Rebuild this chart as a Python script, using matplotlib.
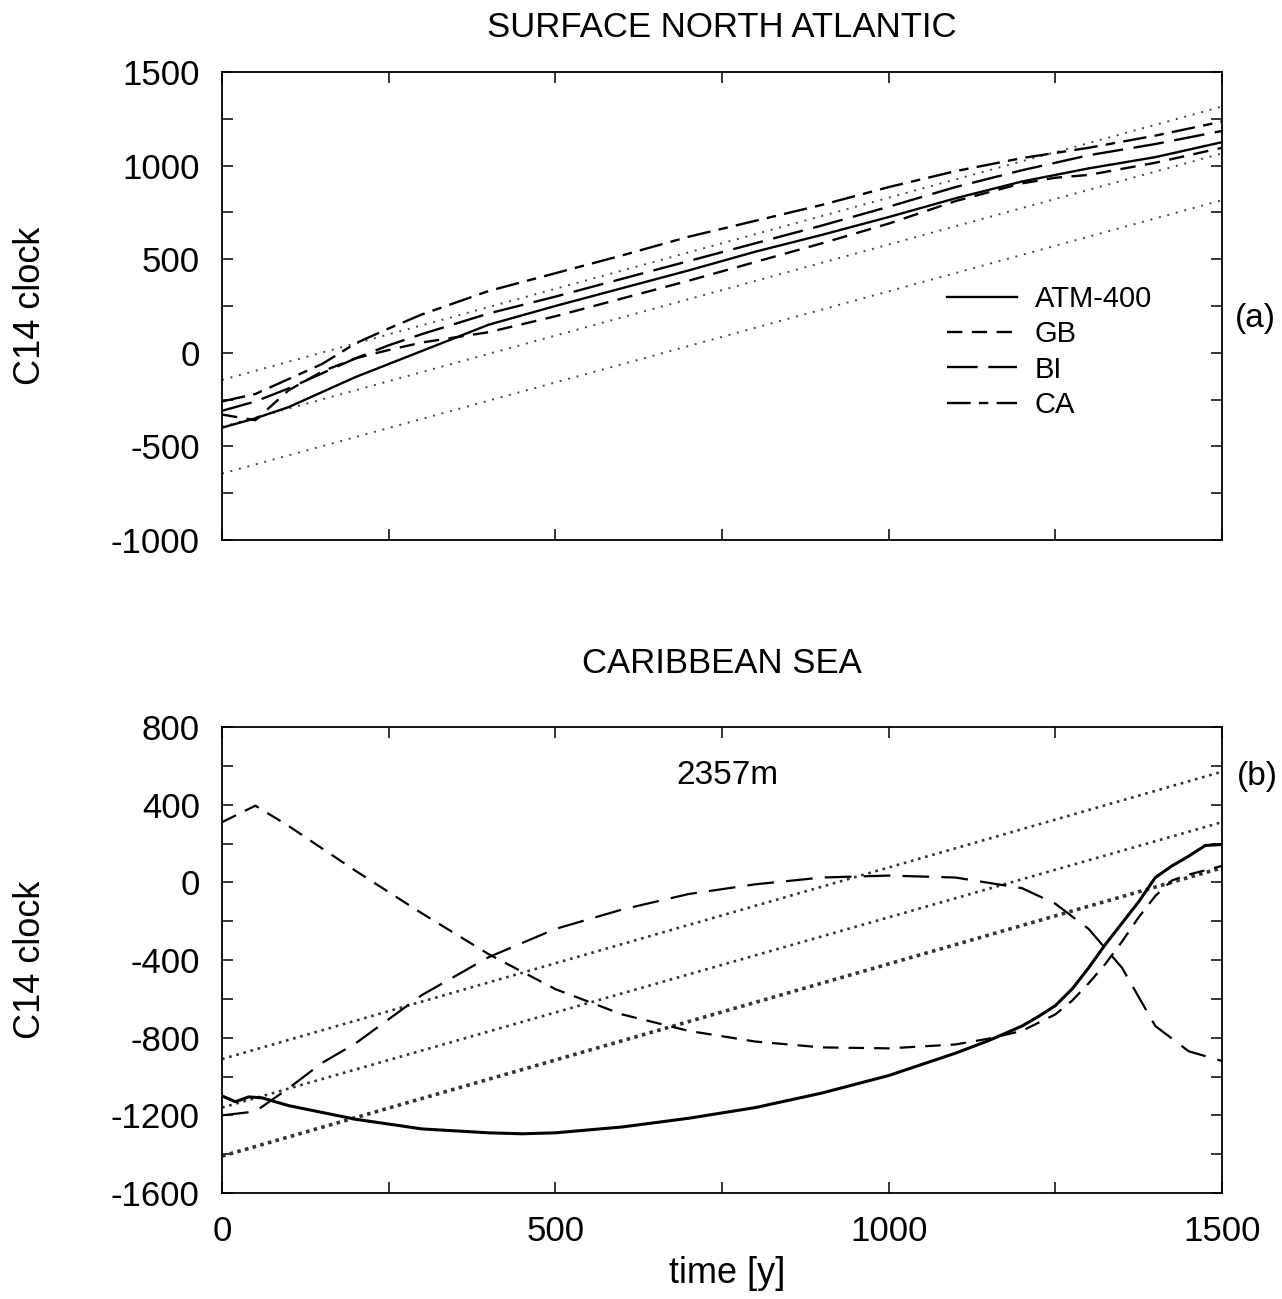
import matplotlib
matplotlib.use("Agg")
import matplotlib.pyplot as plt
from matplotlib.ticker import MultipleLocator

plt.rcParams["font.family"] = ["Liberation Sans", "DejaVu Sans"]
plt.rcParams["axes.unicode_minus"] = False

# ---------------------------------------------------------------------------
# (a) surface North Atlantic
# ---------------------------------------------------------------------------
T_A = [0, 50, 100, 150, 200, 250, 300, 400, 500, 600, 700, 800, 900,
       1000, 1100, 1200, 1300, 1400, 1500]
ATM400_A = [-400, -350, -290, -210, -130, -60, 10, 150, 250, 345, 440, 540,
            630, 725, 825, 915, 985, 1045, 1125]
BI_A = [-310, -260, -190, -110, -30, 40, 100, 210, 300, 395, 490, 585,
        680, 780, 885, 975, 1055, 1115, 1185]
CA_A = [-260, -220, -140, -60, 50, 130, 205, 330, 425, 520, 620, 705,
        790, 885, 970, 1040, 1095, 1160, 1235]

T_GB_A = [0, 50, 100, 150, 200, 250, 300, 400, 500, 600, 700, 800, 900,
          1000, 1100, 1200, 1250, 1300, 1400, 1500]
GB_A = [-330, -360, -200, -100, -30, 15, 55, 110, 195, 290, 385, 485, 585,
        690, 810, 905, 935, 950, 1015, 1095]

# straight reference lines (start, end) over 0..1500 y
REF_T = [0, 1500]
REF_A = [[-145, 1315], [-395, 1065], [-645, 815]]

# ---------------------------------------------------------------------------
# (b) Caribbean Sea, 2357 m
# ---------------------------------------------------------------------------
T_ATM_B = [0, 20, 40, 60, 100, 150, 200, 300, 400, 450, 500, 600, 700, 800,
           900, 1000, 1100, 1150, 1200, 1225, 1250, 1275, 1300, 1325, 1350,
           1375, 1400, 1425, 1450, 1475, 1500]
ATM400_B = [-1100, -1130, -1105, -1110, -1150, -1185, -1220, -1270, -1290,
            -1295, -1290, -1260, -1215, -1160, -1085, -995, -880, -815, -740,
            -690, -635, -550, -440, -320, -210, -100, 25, 85, 135, 190, 195]

T_GB_B = [0, 50, 100, 200, 300, 400, 500, 600, 700, 800, 900, 1000, 1100,
          1150, 1200, 1250, 1275, 1300, 1325, 1350, 1375, 1400, 1425, 1450,
          1500]
GB_B = [310, 395, 290, 60, -160, -370, -550, -680, -765, -820, -850, -855,
        -835, -805, -765, -680, -610, -520, -420, -305, -180, -70, 10, 40, 85]

T_BI_B = [0, 50, 100, 150, 200, 300, 400, 500, 600, 700, 800, 900, 1000,
          1100, 1200, 1250, 1300, 1350, 1400, 1450, 1500]
BI_B = [-1200, -1180, -1060, -930, -830, -580, -385, -240, -140, -60, -10,
        25, 35, 25, -30, -110, -240, -440, -740, -870, -920]

REF_B = [[-910, 570], [-1160, 310], [-1410, 75]]

DASH_GB = (0, (6.5, 4))
DASH_BI = (0, (13, 4.5))
DASH_CA = (0, (10, 3.5, 4, 3.5))

fig = plt.figure(figsize=(12.82, 12.99), dpi=100)
ax1 = fig.add_axes([0.1732, 0.5843, 0.7800, 0.3603])
ax2 = fig.add_axes([0.1732, 0.0816, 0.7800, 0.3587])

# --- panel a ---
for start, end in REF_A:
    ax1.plot(REF_T, [start, end], color="#444444", lw=1.4,
             linestyle=(0, (1, 3.5)))
ax1.plot(T_A, ATM400_A, color="black", lw=1.7, label="ATM-400")
ax1.plot(T_GB_A, GB_A, color="black", lw=1.7, linestyle=DASH_GB, label="GB")
ax1.plot(T_A, BI_A, color="black", lw=1.7, linestyle=DASH_BI, label="BI")
ax1.plot(T_A, CA_A, color="black", lw=1.7, linestyle=DASH_CA, label="CA")

ax1.set_ylim(-1000, 1500)
ax1.yaxis.set_major_locator(MultipleLocator(500))
ax1.yaxis.set_minor_locator(MultipleLocator(250))
ax1.set_title("SURFACE NORTH ATLANTIC", fontsize=25, pad=25)
ax1.legend(loc="upper left", bbox_to_anchor=(0.725, 0.545), frameon=False,
           fontsize=21, handlelength=2.4, handletextpad=0.6,
           labelspacing=0.25, borderpad=0, borderaxespad=0)
ax1.text(1.033, 0.474, "(a)", transform=ax1.transAxes, fontsize=24,
         ha="center", va="center")

# --- panel b ---
for i, (start, end) in enumerate(REF_B):
    if i == 2:
        ax2.plot(REF_T, [start, end], color="#333333", lw=2.6,
                 linestyle=(0, (1, 1.2)))
    else:
        ax2.plot(REF_T, [start, end], color="#333333", lw=1.9,
                 linestyle=(0, (1, 1.8)))
ax2.plot(T_ATM_B, ATM400_B, color="black", lw=2.2)
ax2.plot(T_GB_B, GB_B, color="black", lw=1.6, linestyle=(0, (7, 4.5)))
ax2.plot(T_BI_B, BI_B, color="black", lw=1.6, linestyle=(0, (12, 5.5)))

ax2.set_ylim(-1600, 800)
ax2.yaxis.set_major_locator(MultipleLocator(400))
ax2.yaxis.set_minor_locator(MultipleLocator(200))
ax2.set_title("CARIBBEAN SEA", fontsize=25, pad=39)
ax2.text(0.505, 0.897, "2357m", transform=ax2.transAxes, fontsize=24,
         ha="center", va="center")
ax2.text(1.035, 0.893, "(b)", transform=ax2.transAxes, fontsize=24,
         ha="center", va="center")
ax2.set_xlabel("time [y]", fontsize=26)
ax2.xaxis.set_label_coords(0.505, -0.135)

for ax in (ax1, ax2):
    ax.set_xlim(0, 1500)
    ax.xaxis.set_major_locator(MultipleLocator(500))
    ax.xaxis.set_minor_locator(MultipleLocator(250))
    ax.tick_params(which="both", direction="in", length=8, width=1.1,
                   top=True, right=True, labelsize=25, pad=16)
    ax.set_ylabel("C14 clock", fontsize=26)
    ax.yaxis.set_label_coords(-0.174, 0.5)
    for sp in ax.spines.values():
        sp.set_linewidth(1.3)

ax1.tick_params(labelbottom=False)

fig.savefig("out.png", dpi=100)
